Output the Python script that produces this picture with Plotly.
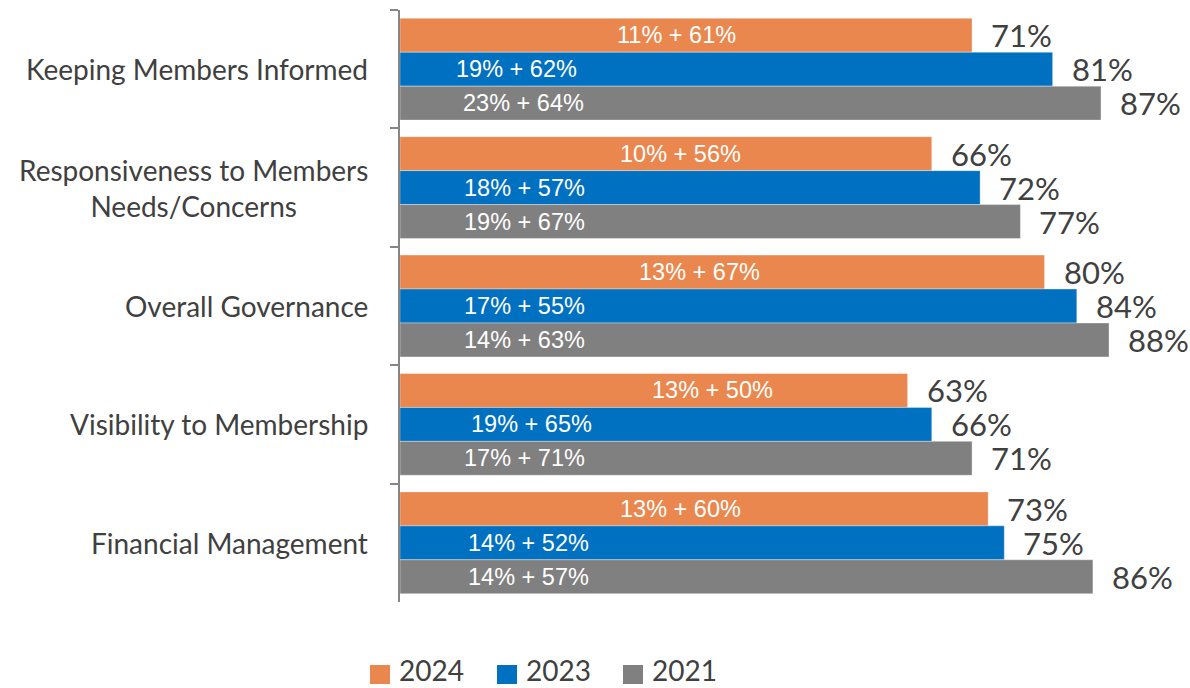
import plotly.graph_objects as go

# Survey items, top to bottom
categories = [
    "Keeping Members Informed",
    "Responsiveness to Members<br>Needs/Concerns",
    "Overall Governance",
    "Visibility to Membership",
    "Financial Management",
]
years = ["2024", "2023", "2021"]

# Overall favourable share per year (bar length)
total_2024 = [71, 66, 80, 63, 73]
total_2023 = [81, 72, 84, 66, 75]
total_2021 = [87, 77, 88, 71, 86]

# Components shown inside each bar: "very" share + "somewhat" share
very_2024 = [11, 10, 13, 13, 13]
some_2024 = [61, 56, 67, 50, 60]
very_2023 = [19, 18, 17, 19, 14]
some_2023 = [62, 57, 55, 65, 52]
very_2021 = [23, 19, 14, 17, 14]
some_2021 = [64, 67, 63, 71, 57]

# Where the inner component labels sit along each bar (axis units)
inner_x_2024 = [34.3, 34.8, 37.2, 38.8, 34.8]
inner_x_2023 = [14.5, 15.5, 15.4, 16.3, 15.9]
inner_x_2021 = [15.3, 15.4, 15.5, 15.5, 15.9]

colors = ["#E9874E", "#0070C0", "#808080"]
TEXT = "#404040"
CAT_FONT = "Lato"
NUM_FONT = "Liberation Sans"

series = [
    (total_2024, very_2024, some_2024, inner_x_2024),
    (total_2023, very_2023, some_2023, inner_x_2023),
    (total_2021, very_2021, some_2021, inner_x_2021),
]

fig = go.Figure()
for (totals, very, some, _), year, col in zip(series, years, colors):
    fig.add_trace(go.Bar(
        y=categories, x=totals, name=year, orientation="h",
        marker=dict(color=col, line=dict(color="rgba(255,255,255,0.35)", width=1)),
        showlegend=False, hoverinfo="skip",
    ))

BARGAP = 0.14
px_per_cat = 592 / len(categories)
slot = px_per_cat * (1 - BARGAP) / len(years)

annotations = []
for i, ((totals, very, some, inner_x), year) in enumerate(zip(series, years)):
    shift = slot * (1 - i)
    for cat, t, v, s, ix in zip(categories, totals, very, some, inner_x):
        annotations.append(dict(
            x=ix, y=cat, xref="x", yref="y", yshift=shift,
            text=f"{v}% + {s}%", showarrow=False, xanchor="center", yanchor="middle",
            font=dict(family=NUM_FONT, size=23.5, color="white"),
        ))
        annotations.append(dict(
            x=t, y=cat, xref="x", yref="y", yshift=shift, xshift=17,
            text=f"{t}%", showarrow=False, xanchor="left", yanchor="middle",
            font=dict(family=CAT_FONT, size=31, color=TEXT),
        ))

# Category labels, centred per line, right-aligned against the axis
for cat in categories:
    annotations.append(dict(
        x=-30 / 790, y=cat, xref="paper", yref="y",
        text=cat, showarrow=False, xanchor="right", yanchor="middle", align="center",
        font=dict(family=CAT_FONT, size=28, color=TEXT),
    ))

# Legend: coloured squares with year labels below the plot
shapes = []
legend_x0 = [370, 497, 623]
for year, col, x0 in zip(years, colors, legend_x0):
    shapes.append(dict(
        type="rect", xref="paper", yref="paper",
        x0=(x0 - 400) / 790, x1=(x0 + 20 - 400) / 790,
        y0=(602 - 684) / 592, y1=(602 - 665) / 592,
        fillcolor=col, line=dict(width=0),
    ))
    annotations.append(dict(
        x=(x0 + 28 - 400) / 790, y=(602 - 670) / 592, xref="paper", yref="paper",
        text=year, showarrow=False, xanchor="left", yanchor="middle", borderpad=0,
        font=dict(family=CAT_FONT, size=28, color=TEXT),
    ))

fig.update_layout(
    width=1190, height=688,
    margin=dict(l=400, r=0, t=10, b=86),
    paper_bgcolor="white", plot_bgcolor="white",
    barmode="group", bargap=BARGAP, bargroupgap=0,
    xaxis=dict(range=[0, 98.05], visible=False, fixedrange=True),
    yaxis=dict(
        autorange="reversed", showticklabels=False,
        ticks="outside", ticklen=8, tickwidth=1.5, tickcolor="#868686",
        tickson="boundaries", showline=True, linecolor="#868686", linewidth=1.5,
        showgrid=False, zeroline=False,
    ),
    annotations=annotations, shapes=shapes,
)

fig.write_html("out.html")
